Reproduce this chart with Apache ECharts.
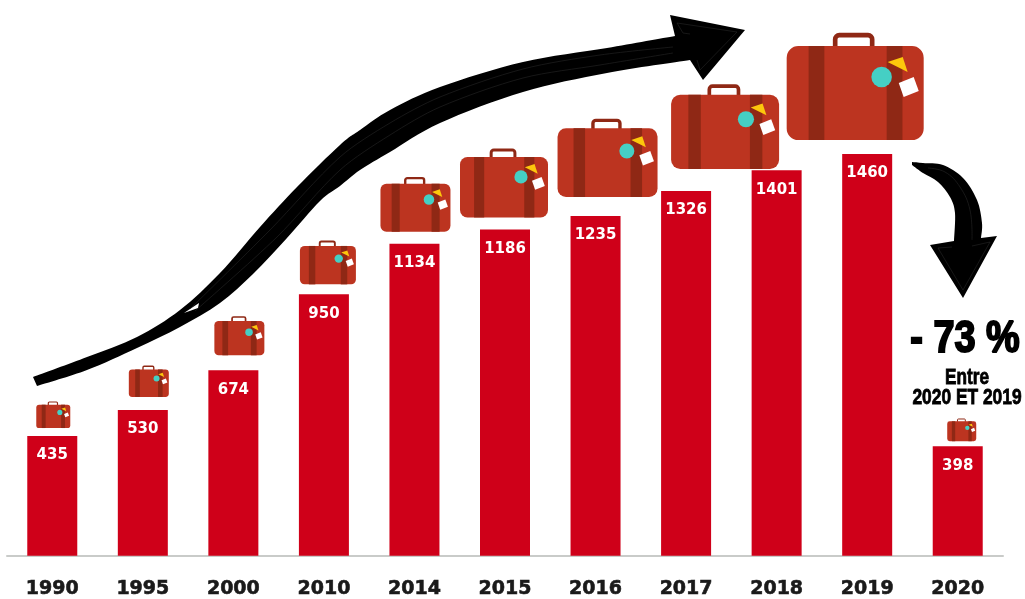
<!DOCTYPE html>
<html>
<head>
<meta charset="utf-8">
<style>
  html,body{margin:0;padding:0;background:#fff;}
  #main{width:1025px;height:599px;}
</style>
<script src="https://cdn.jsdelivr.net/npm/echarts@6/dist/echarts.min.js"></script>
</head>
<body>
<div id="main"></div>
<script>
const years = ['1990','1995','2000','2010','2014','2015','2016','2017','2018','2019','2020'];
const passengers = [435,530,674,950,1134,1186,1235,1326,1401,1460,398];

// suitcase above each bar: which bar, shift from bar centre, body width, gap to bar top
const suitcaseBars = [0,1,2,3,4,5,6,7,9,10];
const suitcaseShift = [1,6,6,4,1,-1,12,39,-12,4];
const suitcaseWidth = [34,40,50,56,70,88,100,108,137,29];
const suitcaseGap = [8,13,15,10,12,12,19,22,14,5];

const BAR_RED = '#cf0019';
const CASE_RED = '#bc3420';
const CASE_DARK = '#8f2815';

function suitcase(params, api) {
  const k = params.dataIndex;
  const top = api.coord([api.value(0), api.value(1)]);
  const w = suitcaseWidth[k];
  const h = w * 0.686;
  const x0 = top[0] + suitcaseShift[k] - w / 2;
  const y0 = top[1] - suitcaseGap[k] - h;
  const u = v => v * w;
  return {
    type: 'group',
    x: x0,
    y: y0,
    children: [
      // handle
      {type:'rect',shape:{x:u(.354),y:-u(.08),width:u(.27),height:u(.12),r:u(.03)},style:{fill:'none',stroke:CASE_DARK,lineWidth:u(.034)}},
      {type:'rect',shape:{x:0,y:0,width:w,height:h,r:u(.085)},style:{fill:CASE_RED}},
      // straps
      {type:'rect',shape:{x:u(.16),y:0,width:u(.115),height:h},style:{fill:CASE_DARK}},
      {type:'rect',shape:{x:u(.73),y:0,width:u(.115),height:h},style:{fill:CASE_DARK}},
      {type:'circle',shape:{cx:u(.693),cy:u(.226),r:u(.075)},style:{fill:'#45cfc4'}},
      {type:'polygon',shape:{points:[[u(.737),u(.117)],[u(.847),u(.08)],[u(.883),u(.19)]]},style:{fill:'#fdc70c'}},
      {type:'polygon',shape:{points:[[u(.818),u(.27)],[u(.927),u(.226)],[u(.964),u(.328)],[u(.854),u(.372)]]},style:{fill:'#fff'}}
    ]
  };
}

// outline of the big rising arrow
const riseTop = [[33,377],[87,357],[137,337],[180,310],[220,273],[260,227],[297,187],[340,145],[360,130],[390,110],[440,87],[523,62],[607,48],[675,36]];
const riseBottom = [[690,60],[607,73],[523,92],[440,123],[390,152],[360,170],[340,186],[320,201],[287,238],[253,274],[220,303],[180,327],[137,348],[87,370],[37,386]];
// outline of the falling arrow
const fallTop = [[912,162],[923,163],[943,165],[963,178],[977,200],[982,223],[981,238]];
const fallBottom = [[954,241],[955,213],[950,197],[938,182],[923,173],[912,165]];

// smooth path through points (catmull-rom)
function smoothThrough(pts) {
  let d = '';
  for (let i = 0; i < pts.length - 1; i++) {
    const p0 = pts[i-1] || pts[i], p1 = pts[i], p2 = pts[i+1], p3 = pts[i+2] || p2;
    d += ' C' + (p1[0]+(p2[0]-p0[0])/6) + ' ' + (p1[1]+(p2[1]-p0[1])/6) + ' '
      + (p2[0]-(p3[0]-p1[0])/6) + ' ' + (p2[1]-(p3[1]-p1[1])/6) + ' ' + p2[0] + ' ' + p2[1];
  }
  return d;
}

const risePath = 'M33 377' + smoothThrough(riseTop) + ' L670 15 L745 30 L703 80 L690 60'
  + smoothThrough(riseBottom) + ' Z';
const fallPath = 'M912 162' + smoothThrough(fallTop) + ' L997 236 L963 298 L930 245 L954 241'
  + smoothThrough(fallBottom) + ' Z';

echarts.graphic.registerShape('riseArrow', echarts.graphic.extendPath(risePath));
echarts.graphic.registerShape('fallArrow', echarts.graphic.extendPath(fallPath));

// the faint scratch lines inside the arrows
const scratch = (points, smooth) => ({
  type:'polyline', z:11, silent:true,
  shape:{points, smooth:smooth||0},
  style:{fill:'none',stroke:'#262626',lineWidth:.6}
});

const myChart = echarts.init(document.getElementById('main'));

myChart.setOption({
  animation:false,
  backgroundColor:'#fff',
  grid:{left:7,right:22,top:0,bottom:43},
  xAxis:{
    type:'category',
    data:years,
    axisTick:{show:false},
    axisLine:{lineStyle:{color:'#c9cbc9',width:2}},
    axisLabel:{
      margin:24,
      fontFamily:'DejaVu Sans',
      fontWeight:'bold',
      fontSize:19,
      color:'#1a1a1a',
      textBorderColor:'#1a1a1a',
      textBorderWidth:.6
    }
  },
  yAxis:{type:'value',min:0,max:2020,show:false},
  series:[
    {
      type:'bar',
      data:passengers,
      barWidth:50,
      itemStyle:{color:BAR_RED},
      label:{
        show:true,
        position:'insideTop',
        distance:12,
        color:'#fff',
        fontFamily:'DejaVu Sans',
        fontWeight:'bold',
        fontSize:15
      }
    },
    {
      type:'custom',
      coordinateSystem:'cartesian2d',
      data:suitcaseBars.map(i=>[i,passengers[i]]),
      encode:{x:0,y:1},
      renderItem:suitcase,
      silent:true,
      z:5
    }
  ],
  graphic:[
    {type:'riseArrow',style:{fill:'#000'},z:10},
    {type:'fallArrow',style:{fill:'#000'},z:10},
    {type:'polygon',z:11,shape:{points:[[184,313],[199,303],[198,308]]},style:{fill:'#fff'}},
    scratch([[190,309],[270,230],[340,157],[390,123],[440,97],[523,69],[600,55],[673,47]],.3),
    scratch([[195,311],[277,237],[340,170],[390,135],[440,107],[523,78],[600,65],[673,53]],.3),
    scratch([[690,34],[683,33],[677,23],[737,32],[700,70],[697,60]]),
    scratch([[928,168],[945,172],[960,187],[970,210],[972,240]],.4),
    scratch([[972,246],[990,242],[963,290],[938,248],[952,247]]),
    {
      type:'text',x:965,y:340,scaleX:.86,z:10,
      style:{text:'- 73 %',textAlign:'center',textVerticalAlign:'middle',font:'bold 44px "Liberation Sans"',fill:'#000',stroke:'#000',lineWidth:2}
    },
    {
      type:'text',x:967,y:378,scaleX:.78,z:10,
      style:{text:'Entre',textAlign:'center',textVerticalAlign:'middle',font:'bold 22px "Liberation Sans"',fill:'#000',stroke:'#000',lineWidth:.8}
    },
    {
      type:'text',x:967,y:398,scaleX:.79,z:10,
      style:{text:'2020 ET 2019',textAlign:'center',textVerticalAlign:'middle',font:'bold 22px "Liberation Sans"',fill:'#000',stroke:'#000',lineWidth:.8}
    }
  ]
});
</script>
</body>
</html>
